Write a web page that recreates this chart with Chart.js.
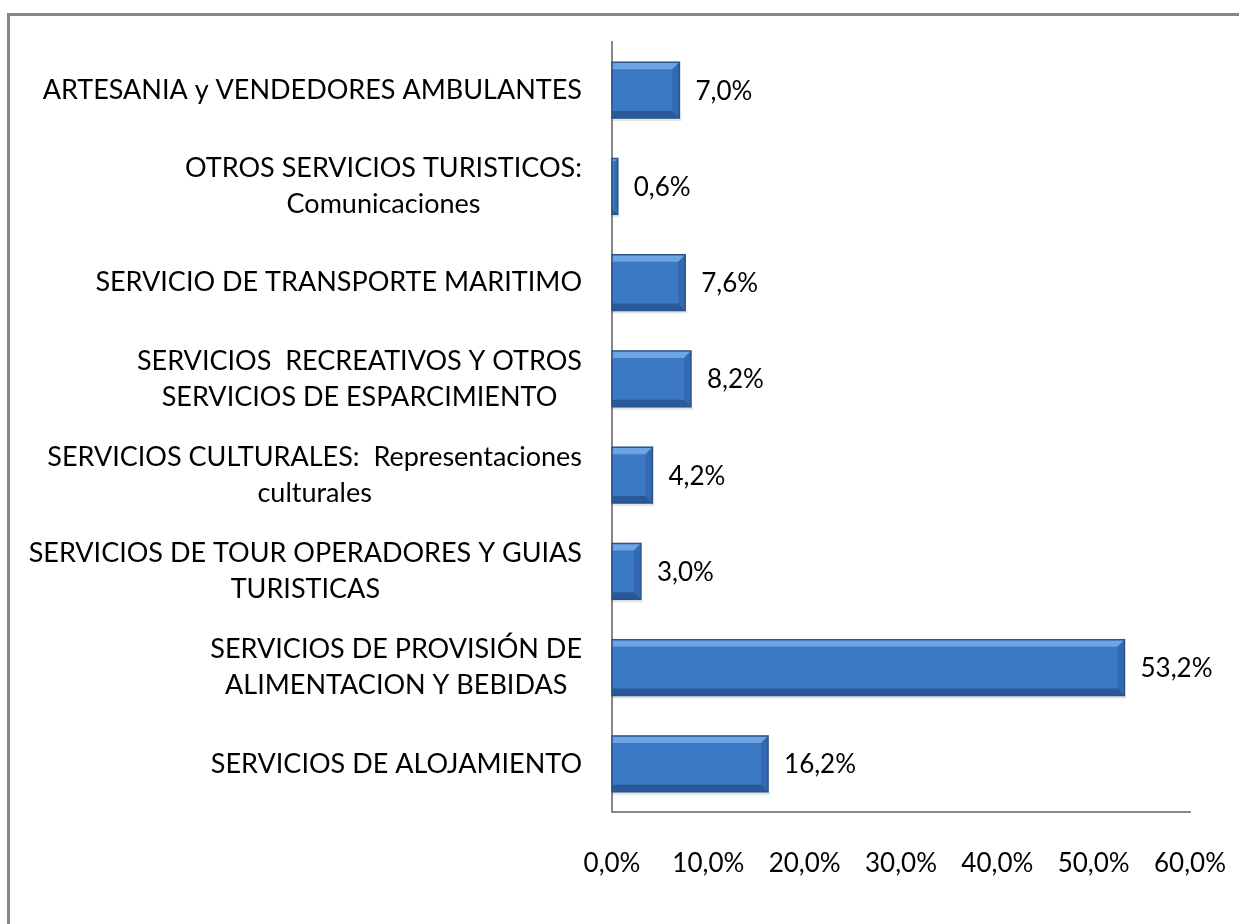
<!DOCTYPE html>
<html>
<head>
<meta charset="utf-8">
<script src="https://cdn.jsdelivr.net/npm/chart.js@4"></script>
<style>
  html, body { margin: 0; padding: 0; background: #fff; }
  #wrap { width: 1239px; height: 924px; position: relative; }
</style>
</head>
<body>
<div id="wrap"><canvas id="myChart" width="1239" height="924"></canvas></div>
<script>
// datos
const categories = [
    ['ARTESANIA y VENDEDORES AMBULANTES'],
    ['OTROS SERVICIOS TURISTICOS:', 'Comunicaciones'],
    ['SERVICIO DE TRANSPORTE MARITIMO'],
    ['SERVICIOS  RECREATIVOS Y OTROS', 'SERVICIOS DE ESPARCIMIENTO'],
    ['SERVICIOS CULTURALES:  Representaciones', 'culturales'],
    ['SERVICIOS DE TOUR OPERADORES Y GUIAS', 'TURISTICAS'],
    ['SERVICIOS DE PROVISIÓN DE', 'ALIMENTACION Y BEBIDAS'],
    ['SERVICIOS DE ALOJAMIENTO']
];
const values = [7.0, 0.6, 7.6, 8.2, 4.2, 3.0, 53.2, 16.2];
const xTicks = [0, 10, 20, 30, 40, 50, 60];

const FONT = 'Lato, "Open Sans", sans-serif';
const CAT_SIZE = 27;
const NUM_SIZE = 26;

function pct(v) {
    return v.toFixed(1).replace('.', ',') + '%';
}

// borde gris del marco
const framePlugin = {
    id: 'frame',
    beforeDraw: (chart) => {
        const {ctx} = chart;
        ctx.save();
        ctx.fillStyle = '#fff';
        ctx.fillRect(0, 0, chart.width, chart.height);
        ctx.strokeStyle = '#878787';
        ctx.lineWidth = 3;
        ctx.beginPath();
        ctx.moveTo(8.5, chart.height + 5);
        ctx.lineTo(8.5, 14.5);
        ctx.lineTo(chart.width + 5, 14.5);
        ctx.stroke();
        ctx.restore();
    }
};

// efecto bisel en barras + etiquetas de valor
const bevelPlugin = {
    id: 'bevel',
    afterDatasetsDraw: (chart) => {
        const {ctx} = chart;
        const meta = chart.getDatasetMeta(0);
        ctx.save();
        meta.data.forEach((bar, i) => {
            const x0 = bar.base, x1 = bar.x;
            const top = bar.y - bar.height / 2, bot = bar.y + bar.height / 2;
            const b = Math.min(7, (x1 - x0) / 2);
            // sombra
            ctx.fillStyle = 'rgba(0,0,0,0.10)';
            ctx.fillRect(x0, bot, x1 - x0 + 2, 3);
            // top edge
            ctx.fillStyle = 'rgba(150,200,255,0.55)';
            ctx.beginPath();
            ctx.moveTo(x0, top); ctx.lineTo(x1, top); ctx.lineTo(x1 - b, top + b); ctx.lineTo(x0, top + b);
            ctx.closePath(); ctx.fill();
            // bottom edge
            ctx.fillStyle = 'rgba(20,50,100,0.45)';
            ctx.beginPath();
            ctx.moveTo(x0, bot); ctx.lineTo(x1, bot); ctx.lineTo(x1 - b, bot - b); ctx.lineTo(x0, bot - b);
            ctx.closePath(); ctx.fill();
            // right edge
            ctx.fillStyle = 'rgba(30,70,130,0.3)';
            ctx.beginPath();
            ctx.moveTo(x1, top); ctx.lineTo(x1, bot); ctx.lineTo(x1 - b, bot - b); ctx.lineTo(x1 - b, top + b);
            ctx.closePath(); ctx.fill();
            // outline
            ctx.strokeStyle = '#2b5386';
            ctx.lineWidth = 1.5;
            ctx.strokeRect(x0, top, x1 - x0, bot - top);

            ctx.fillStyle = '#000';
            ctx.font = NUM_SIZE + 'px ' + FONT;
            ctx.textAlign = 'left';
            ctx.textBaseline = 'middle';
            ctx.fillText(pct(values[i]), x1 + 16, bar.y + 1);
        });
        ctx.restore();
    }
};

// etiquetas de categoria centradas por bloque, alineadas a la derecha
const catLabels = {
    id: 'catLabels',
    afterDraw: (chart) => {
        const {ctx} = chart;
        const yScale = chart.scales.y;
        ctx.save();
        ctx.font = CAT_SIZE + 'px ' + FONT;
        ctx.fillStyle = '#000';
        ctx.textAlign = 'center';
        ctx.textBaseline = 'middle';
        const right = 582, lh = 36;
        categories.forEach((lines, i) => {
            const yc = yScale.getPixelForTick(i);
            const w = Math.max(...lines.map(l => ctx.measureText(l).width));
            const cx = right - w / 2;
            lines.forEach((l, k) => {
                ctx.fillText(l, cx, yc + (k - (lines.length - 1) / 2) * lh);
            });
        });
        ctx.restore();
    }
};

const ctx = document.getElementById('myChart');
new Chart(ctx, {
    type: 'bar',
    data: {
        labels: categories,
        datasets: [{
            data: values,
            backgroundColor: '#3b79c4',
            borderWidth: 0,
            barPercentage: 0.58,
            categoryPercentage: 1.0
        }]
    },
    options: {
        indexAxis: 'y',
        responsive: false,
        animation: false,
        layout: { padding: { top: 42, right: 49, bottom: 0, left: 0 } },
        plugins: {
            legend: { display: false },
            tooltip: { enabled: false }
        },
        scales: {
            x: {
                min: 0,
                max: 60,
                afterBuildTicks: (scale) => { scale.ticks = xTicks.map(v => ({ value: v })); },
                afterFit: (scale) => {
                    scale.height = 112;
                    scale.paddingLeft = 0;
                    scale.paddingRight = 0;
                },
                grid: { display: false, drawTicks: false },
                border: { display: true, color: '#878787', width: 2 },
                ticks: {
                    padding: 36,
                    color: '#000',
                    font: { family: FONT, size: NUM_SIZE },
                    callback: (v) => pct(v)
                }
            },
            y: {
                afterFit: (scale) => { scale.width = 612; },
                grid: { display: false, drawTicks: false },
                border: { display: true, color: '#878787', width: 2 },
                ticks: { display: false }
            }
        }
    },
    plugins: [framePlugin, bevelPlugin, catLabels]
});
</script>
</body>
</html>
